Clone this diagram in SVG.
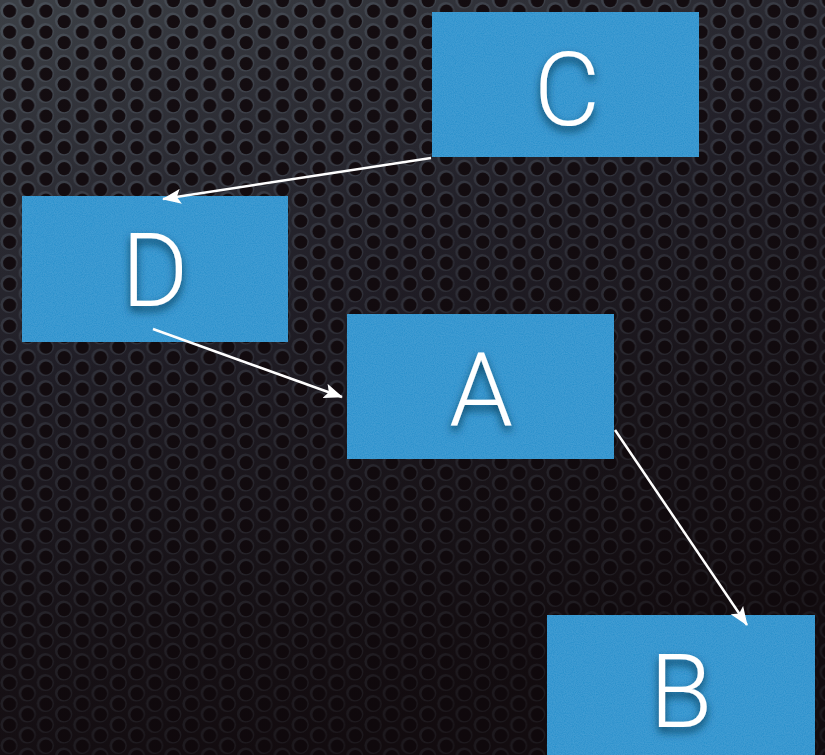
<svg xmlns="http://www.w3.org/2000/svg" width="825" height="755" viewBox="0 0 825 755">
  <defs>
    <!-- dark metal backdrop -->
    <linearGradient id="metal" x1="0" y1="0" x2="0.35" y2="1">
      <stop offset="0" stop-color="#3c4046"/>
      <stop offset="0.45" stop-color="#272630"/>
      <stop offset="1" stop-color="#1b1418"/>
    </linearGradient>
    <linearGradient id="shade" x1="0" y1="0" x2="0.3" y2="1">
      <stop offset="0" stop-color="#0b0508" stop-opacity="0"/>
      <stop offset="0.5" stop-color="#0b0508" stop-opacity="0.25"/>
      <stop offset="1" stop-color="#0b0508" stop-opacity="0.55"/>
    </linearGradient>
    <!-- perforated grille: hex lattice of holes -->
    <pattern id="grille" width="36.4" height="21" patternUnits="userSpaceOnUse">
      <g class="hole"><circle cx="9" cy="10.5" r="8.6"/></g>
      <g class="hole"><circle cx="27.2" cy="0" r="8.6"/><circle cx="27.2" cy="21" r="8.6"/></g>
      <circle class="pit" cx="9.6" cy="11.1" r="6.6"/>
      <circle class="pit" cx="27.8" cy="0.6" r="6.6"/>
      <circle class="pit" cx="27.8" cy="21.6" r="6.6"/>
    </pattern>
    <!-- grain on the boxes -->
    <filter id="grain" x="0" y="0" width="100%" height="100%">
      <feTurbulence type="fractalNoise" baseFrequency="0.9" numOctaves="2" seed="3" result="n"/>
      <feColorMatrix in="n" type="matrix" values="0 0 0 0 0.2  0 0 0 0 0.6  0 0 0 0 0.9  0 0 0 0.25 0" result="c"/>
      <feComposite in="c" in2="SourceGraphic" operator="in" result="t"/>
      <feMerge><feMergeNode in="SourceGraphic"/><feMergeNode in="t"/></feMerge>
    </filter>
    <filter id="glow" x="-30%" y="-30%" width="160%" height="170%">
      <feDropShadow dx="0" dy="5" stdDeviation="4" flood-color="#06304c" flood-opacity="0.85"/>
    </filter>
    <marker id="arrow" viewBox="0 0 19 15" refX="18" refY="7.5" markerWidth="19" markerHeight="15" markerUnits="userSpaceOnUse" orient="auto">
      <path d="M0,0 L19,7.5 L0,15 L4,7.5 Z" fill="#ffffff"/>
    </marker>
    <style>
      .hole circle { fill: #6c7784; fill-opacity: 0.3; }
      .pit { fill: #140d11; }
      .box { fill: #278fcb; filter: url(#grain); }
      .label { font-family: Roboto, "Liberation Sans", sans-serif; font-weight: 300; font-size: 102px; fill: #ffffff; text-anchor: middle; filter: url(#glow); }
      .edge { stroke: #ffffff; stroke-width: 2.5; fill: none; marker-end: url(#arrow); }
    </style>
  </defs>

  <rect width="825" height="755" fill="url(#metal)"/>
  <rect width="825" height="755" fill="url(#grille)"/>
  <rect width="825" height="755" fill="url(#shade)"/>

  <g id="node-C">
    <rect class="box" x="432" y="12" width="267" height="145"/>
    <text class="label" x="567" y="125">C</text>
  </g>
  <g id="node-D">
    <rect class="box" x="22" y="196" width="266" height="146"/>
    <text class="label" x="155" y="306">D</text>
  </g>
  <g id="node-A">
    <rect class="box" x="347" y="314" width="267" height="145"/>
    <text class="label" x="481" y="425">A</text>
  </g>
  <g id="node-B">
    <rect class="box" x="547" y="615" width="268" height="145"/>
    <text class="label" x="681" y="727">B</text>
  </g>

  <g id="connectors">
    <line class="edge" x1="431" y1="158" x2="163" y2="199"/>
    <line class="edge" x1="153" y1="329" x2="342" y2="397"/>
    <line class="edge" x1="615" y1="430" x2="747" y2="625"/>
  </g>
</svg>
